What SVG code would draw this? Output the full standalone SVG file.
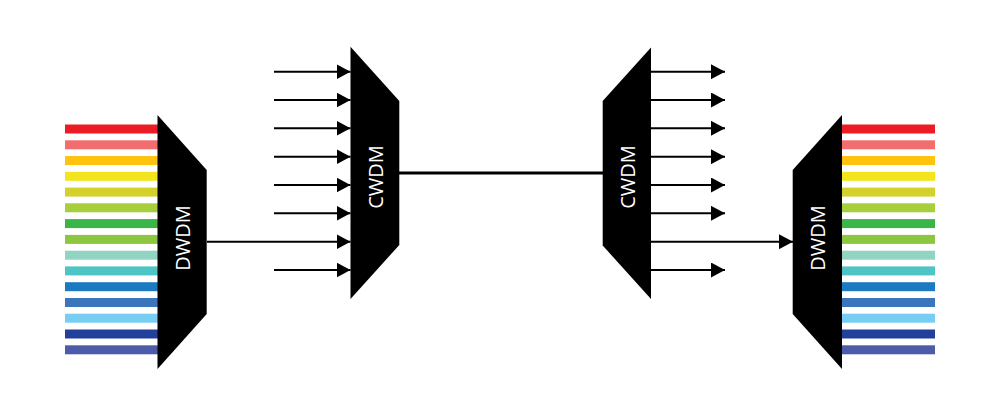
<svg xmlns="http://www.w3.org/2000/svg" width="1000" height="417" viewBox="0 0 1000 417">
<defs>
<marker id="ah" markerUnits="userSpaceOnUse" markerWidth="14" markerHeight="15" refX="14" refY="7.5" orient="auto">
<path d="M0,0 L14,7.5 L0,15 Z" fill="#000"/>
</marker>
<style>
.dev{fill:#000}
.lbl{font-family:"Open Sans","Liberation Sans",sans-serif;font-size:20px;fill:#fff;text-anchor:middle;dominant-baseline:central}
.ln{stroke:#000;stroke-width:3;fill:none}
.arr{stroke:#000;stroke-width:2;fill:none;marker-end:url(#ah)}
.b1{fill:#ED1C24}.b2{fill:#F26D6D}.b3{fill:#FFC20E}.b4{fill:#F2E51D}.b5{fill:#D4D12C}
.b6{fill:#A7CE3D}.b7{fill:#39B54A}.b8{fill:#8DC63F}.b9{fill:#91D4C2}.b10{fill:#4FC4C7}
.b11{fill:#1C7BC0}.b12{fill:#3B75BC}.b13{fill:#76CFF2}.b14{fill:#21409A}.b15{fill:#4E5BA8}
</style>
</defs>
<rect width="1000" height="417" fill="#fff"/>

<g id="bars-left">
<rect class="b1" x="65" y="124.5" width="93" height="9"/>
<rect class="b2" x="65" y="140.3" width="93" height="9"/>
<rect class="b3" x="65" y="156" width="93" height="9"/>
<rect class="b4" x="65" y="171.8" width="93" height="9"/>
<rect class="b5" x="65" y="187.6" width="93" height="9"/>
<rect class="b6" x="65" y="203.3" width="93" height="9"/>
<rect class="b7" x="65" y="219.1" width="93" height="9"/>
<rect class="b8" x="65" y="234.9" width="93" height="9"/>
<rect class="b9" x="65" y="250.7" width="93" height="9"/>
<rect class="b10" x="65" y="266.4" width="93" height="9"/>
<rect class="b11" x="65" y="282.2" width="93" height="9"/>
<rect class="b12" x="65" y="298" width="93" height="9"/>
<rect class="b13" x="65" y="313.7" width="93" height="9"/>
<rect class="b14" x="65" y="329.5" width="93" height="9"/>
<rect class="b15" x="65" y="345.3" width="93" height="9"/>
</g>

<g id="bars-right">
<rect class="b1" x="842" y="124.5" width="93" height="9"/>
<rect class="b2" x="842" y="140.3" width="93" height="9"/>
<rect class="b3" x="842" y="156" width="93" height="9"/>
<rect class="b4" x="842" y="171.8" width="93" height="9"/>
<rect class="b5" x="842" y="187.6" width="93" height="9"/>
<rect class="b6" x="842" y="203.3" width="93" height="9"/>
<rect class="b7" x="842" y="219.1" width="93" height="9"/>
<rect class="b8" x="842" y="234.9" width="93" height="9"/>
<rect class="b9" x="842" y="250.7" width="93" height="9"/>
<rect class="b10" x="842" y="266.4" width="93" height="9"/>
<rect class="b11" x="842" y="282.2" width="93" height="9"/>
<rect class="b12" x="842" y="298" width="93" height="9"/>
<rect class="b13" x="842" y="313.7" width="93" height="9"/>
<rect class="b14" x="842" y="329.5" width="93" height="9"/>
<rect class="b15" x="842" y="345.3" width="93" height="9"/>
</g>

<g id="connectors">
<line class="arr" x1="207" y1="241.7" x2="350.5" y2="241.7"/>
<line class="arr" x1="274" y1="71.7" x2="350.5" y2="71.7"/>
<line class="arr" x1="274" y1="100" x2="350.5" y2="100"/>
<line class="arr" x1="274" y1="128.3" x2="350.5" y2="128.3"/>
<line class="arr" x1="274" y1="156.7" x2="350.5" y2="156.7"/>
<line class="arr" x1="274" y1="185" x2="350.5" y2="185"/>
<line class="arr" x1="274" y1="213.3" x2="350.5" y2="213.3"/>
<line class="arr" x1="274" y1="270" x2="350.5" y2="270"/>
<line class="ln" x1="399" y1="173" x2="603" y2="173"/>
<line class="arr" x1="651" y1="71.7" x2="725" y2="71.7"/>
<line class="arr" x1="651" y1="100" x2="725" y2="100"/>
<line class="arr" x1="651" y1="128.3" x2="725" y2="128.3"/>
<line class="arr" x1="651" y1="156.7" x2="725" y2="156.7"/>
<line class="arr" x1="651" y1="185" x2="725" y2="185"/>
<line class="arr" x1="651" y1="213.3" x2="725" y2="213.3"/>
<line class="arr" x1="651" y1="270" x2="725" y2="270"/>
<line class="arr" x1="651" y1="241.7" x2="793" y2="241.7"/>
</g>

<g id="dwdm-left">
<polygon class="dev" points="157.5,115 206.7,170 206.7,314 157.5,369"/>
<text class="lbl" transform="translate(182,238) rotate(-90)">DWDM</text>
</g>

<g id="cwdm-left">
<polygon class="dev" points="350.5,46.7 399.3,101 399.3,245 350.5,299"/>
<text class="lbl" transform="translate(375,177) rotate(-90)">CWDM</text>
</g>

<g id="cwdm-right">
<polygon class="dev" points="651,47.5 651,299 602.7,245.5 602.7,101"/>
<text class="lbl" transform="translate(627,177) rotate(-90)">CWDM</text>
</g>

<g id="dwdm-right">
<polygon class="dev" points="842,115 842,369 792.7,314 792.7,170"/>
<text class="lbl" transform="translate(817.5,238) rotate(-90)">DWDM</text>
</g>
</svg>
